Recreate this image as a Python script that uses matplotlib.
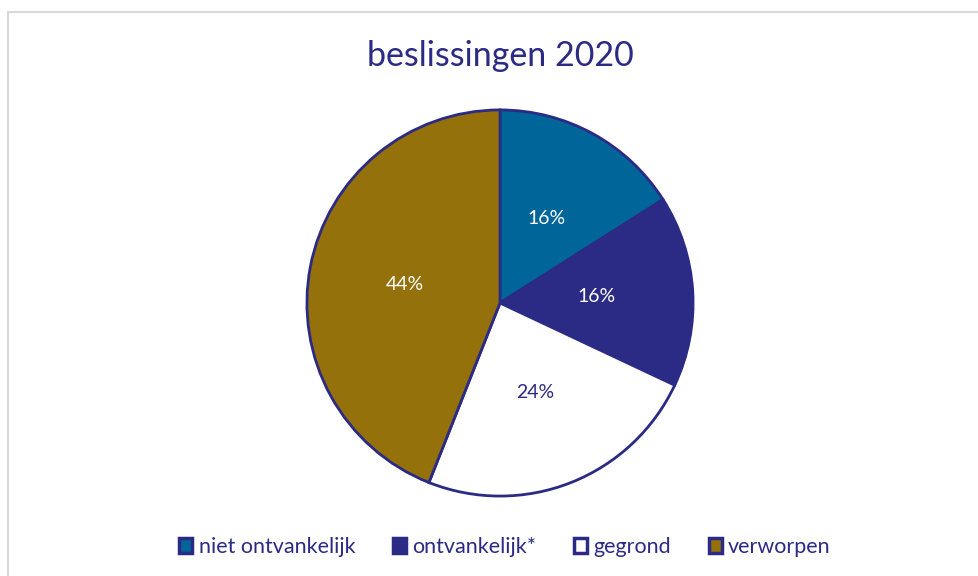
import matplotlib
matplotlib.use("Agg")
import matplotlib.pyplot as plt
from matplotlib.patches import Patch, Rectangle

categories = ["niet ontvankelijk", "ontvankelijk*", "gegrond", "verworpen"]
values = [16, 16, 24, 44]
colors = ["#006699", "#2B2A84", "#FFFFFF", "#94710A"]
pct_colors = ["white", "white", "#2B2A84", "white"]
title = "beslissingen 2020"

DARK = "#2B2A84"
FONT = "Lato"
W, H = 979, 576
fig = plt.figure(figsize=(W / 100, H / 100), dpi=100)

# chart area border (cropped at right/bottom)
fig.patches.append(Rectangle((8.5 / W, -0.1), 1.2, 1.1 - 12.5 / H,
                             transform=fig.transFigure, fill=False,
                             edgecolor="#D9D9D9", linewidth=1.5))

cx, cy, r = 500, 303, 195
ax = fig.add_axes([(cx - r) / W, (H - cy - r) / H, 2 * r / W, 2 * r / H])
wedges, texts, autotexts = ax.pie(
    values, colors=colors, startangle=90, counterclock=False,
    autopct="%d%%", pctdistance=0.5, radius=1,
    wedgeprops=dict(edgecolor=DARK, linewidth=2.0),
    textprops=dict(fontsize=14, family=FONT))
for t, c in zip(autotexts, pct_colors):
    t.set_color(c)
ax.set_xlim(-1.01, 1.01)
ax.set_ylim(-1.01, 1.01)
ax.set_aspect("equal")
ax.axis("off")

fig.text(cx / W, 1 - 56 / H, title, ha="center", va="center",
         fontsize=24.5, color=DARK, family=FONT)

handles = [Patch(facecolor=c, edgecolor=DARK, linewidth=2.5) for c in colors]
fig.legend(handles, categories, loc="center", bbox_to_anchor=(505 / W, 1 - 547 / H),
           ncol=4, frameon=False, prop=dict(family=FONT, size=15.5),
           labelcolor=DARK, handlelength=0.6, handleheight=0.65,
           handletextpad=0.3, columnspacing=1.75)

fig.savefig("out.png", dpi=100, facecolor="white")
